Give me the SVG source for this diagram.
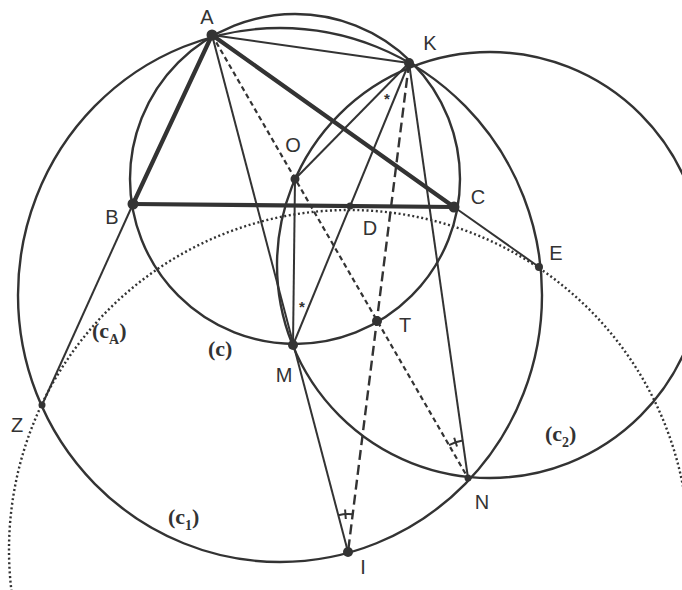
<svg xmlns="http://www.w3.org/2000/svg" width="682" height="590" viewBox="0 0 682 590">
<style>
.bg{fill:#ffffff}
.circ{fill:none;stroke:#333;stroke-width:2.4}
.dot{fill:none;stroke:#333;stroke-width:2.4;stroke-dasharray:2 2.6}
.thin{stroke:#333;stroke-width:2;fill:none}
.thick{stroke:#333;stroke-width:4.2;fill:none;stroke-linecap:round}
.dsh1{stroke:#333;stroke-width:2.2;stroke-dasharray:5 3.5;fill:none}
.dsh2{stroke:#333;stroke-width:2.4;stroke-dasharray:10 5;fill:none}
.pt{fill:#333}
.lbl{font-family:"Liberation Sans",Arial,sans-serif;font-size:20px;fill:#333;text-anchor:middle}
.clb{font-family:"Liberation Serif","Times New Roman",serif;font-size:22px;font-weight:bold;fill:#333}
.sub{font-size:14px}
.ast{font-family:"Liberation Sans",Arial,sans-serif;font-size:15px;font-weight:bold;fill:#333;text-anchor:middle}
</style>
<rect class="bg" x="0" y="0" width="682" height="590"/>
<g id="circles">
  <circle id="circle-c" class="circ" cx="295" cy="179" r="165"/>
  <ellipse id="circle-c1" class="circ" cx="280" cy="295" rx="262" ry="267"/>
  <circle id="circle-c2" class="circ" cx="490" cy="265" r="213"/>
  <circle id="circle-cA" class="dot" cx="349" cy="550" r="340"/>
</g>
<g id="connectors">
  <line class="thick" x1="212" y1="35" x2="133" y2="204"/>
  <line class="thick" x1="133" y1="204" x2="454" y2="207"/>
  <line class="thick" x1="212" y1="35" x2="454" y2="207"/>
  <line class="thin" x1="133" y1="204" x2="42" y2="405"/>
  <line class="thin" x1="454" y1="207" x2="539" y2="267"/>
  <line class="thin" x1="212" y1="35" x2="409" y2="63"/>
  <line class="thin" x1="212" y1="35" x2="348" y2="552"/>
  <line class="thin" x1="295" y1="179" x2="409" y2="63"/>
  <line class="thin" x1="295" y1="179" x2="293" y2="345"/>
  <line class="thin" x1="409" y1="63" x2="293" y2="345"/>
  <line class="thin" x1="409" y1="63" x2="468" y2="478"/>
  <line class="dsh1" x1="212" y1="35" x2="468" y2="478"/>
  <line class="dsh2" x1="409" y1="63" x2="348" y2="552"/>
  <path class="thin" d="M338.3 515.3 A38 38 0 0 1 352.7 514.3"/>
  <line class="thin" x1="345.8" y1="519" x2="345.1" y2="509.5"/>
  <path class="thin" d="M449 445.1 A38 38 0 0 1 462.7 440.4"/>
  <line class="thin" x1="457" y1="446.5" x2="454.2" y2="437.8"/>
</g>
<g id="nodes">
  <g id="A"><circle class="pt" cx="212" cy="35" r="5.5"/><text class="lbl" x="207" y="24">A</text></g>
  <g id="K"><circle class="pt" cx="409" cy="63" r="5"/><text class="lbl" x="430" y="50">K</text></g>
  <g id="O"><circle class="pt" cx="295" cy="179" r="4.5"/><text class="lbl" x="293" y="152">O</text></g>
  <g id="B"><circle class="pt" cx="133" cy="204" r="5.5"/><text class="lbl" x="112" y="224">B</text></g>
  <g id="C"><circle class="pt" cx="454" cy="207" r="5.5"/><text class="lbl" x="478" y="204">C</text></g>
  <g id="D"><circle class="pt" cx="350" cy="206" r="3.5"/><text class="lbl" x="370" y="235">D</text></g>
  <g id="E"><circle class="pt" cx="539" cy="267" r="4"/><text class="lbl" x="556" y="260">E</text></g>
  <g id="M"><circle class="pt" cx="293" cy="345" r="5"/><text class="lbl" x="284" y="382">M</text></g>
  <g id="T"><circle class="pt" cx="377" cy="321" r="5"/><text class="lbl" x="405" y="332">T</text></g>
  <g id="Z"><circle class="pt" cx="42" cy="405" r="3.5"/><text class="lbl" x="17" y="432">Z</text></g>
  <g id="N"><circle class="pt" cx="468" cy="478" r="3.5"/><text class="lbl" x="482" y="509">N</text></g>
  <g id="I"><circle class="pt" cx="348" cy="552" r="5"/><text class="lbl" x="363" y="574">I</text></g>
</g>
<g id="labels">
  <text class="clb" x="92" y="338">(c<tspan class="sub" dy="6">A</tspan><tspan dy="-6">)</tspan></text>
  <text class="clb" x="208" y="356">(c)</text>
  <text class="clb" x="168" y="524">(c<tspan class="sub" dy="6">1</tspan><tspan dy="-6">)</tspan></text>
  <text class="clb" x="545" y="441">(c<tspan class="sub" dy="6">2</tspan><tspan dy="-6">)</tspan></text>
  <text class="ast" x="387" y="104">*</text>
  <text class="ast" x="302" y="312">*</text>
</g>
</svg>
